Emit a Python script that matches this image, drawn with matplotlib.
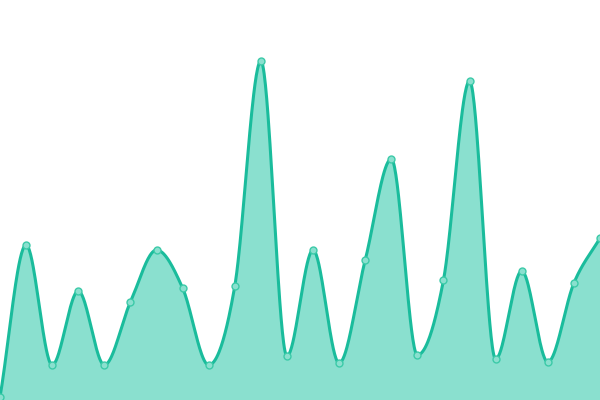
import numpy as np
import matplotlib
matplotlib.use('Agg')
import matplotlib.pyplot as plt

# values (y scale 0..400)
idx = list(range(24))
values = [3, 155, 35, 109, 35, 98, 150, 112, 35, 114, 339, 44,
          150, 37, 140, 241, 45, 120, 319, 41, 129, 38, 117, 162]

line_color = '#1abc9c'
fill_color = '#8ae0cf'


def monotone_curve(x, y, n=40):
    # Fritsch-Carlson monotone cubic, like chart.js "monotone" mode
    x = np.asarray(x, float)
    y = np.asarray(y, float)
    h = np.diff(x)
    d = np.diff(y) / h
    m = np.zeros_like(y)
    m[0], m[-1] = d[0], d[-1]
    for i in range(1, len(y) - 1):
        if d[i - 1] * d[i] <= 0:
            m[i] = 0
        else:
            m[i] = (d[i - 1] + d[i]) / 2
    for i in range(len(d)):
        if d[i] == 0:
            m[i] = m[i + 1] = 0
            continue
        a, b = m[i] / d[i], m[i + 1] / d[i]
        s = a * a + b * b
        if s > 9:
            t = 3 / np.sqrt(s)
            m[i] = t * a * d[i]
            m[i + 1] = t * b * d[i]
    xs, ys = [], []
    for i in range(len(d)):
        t = np.linspace(0, 1, n, endpoint=False)
        h00 = 2 * t**3 - 3 * t**2 + 1
        h10 = t**3 - 2 * t**2 + t
        h01 = -2 * t**3 + 3 * t**2
        h11 = t**3 - t**2
        xs.append(x[i] + t * h[i])
        ys.append(h00 * y[i] + h10 * h[i] * m[i] + h01 * y[i + 1] + h11 * h[i] * m[i + 1])
    xs.append([x[-1]])
    ys.append([y[-1]])
    return np.concatenate(xs), np.concatenate(ys)


cx, cy = monotone_curve(idx, values)

fig = plt.figure(figsize=(6, 4), dpi=100)
ax = fig.add_axes([0, 0, 1, 1])
ax.fill_between(cx, cy, 0, color=fill_color, linewidth=0)
ax.plot(cx, cy, color=line_color, linewidth=2.2, solid_capstyle='round')
ax.plot(idx, values, 'o', markersize=5, markerfacecolor=fill_color,
        markeredgecolor='#3ccaa8', markeredgewidth=1)
ax.set_xlim(0, 23)
ax.set_ylim(0, 400)
ax.axis('off')
fig.savefig('out.png', dpi=100)
